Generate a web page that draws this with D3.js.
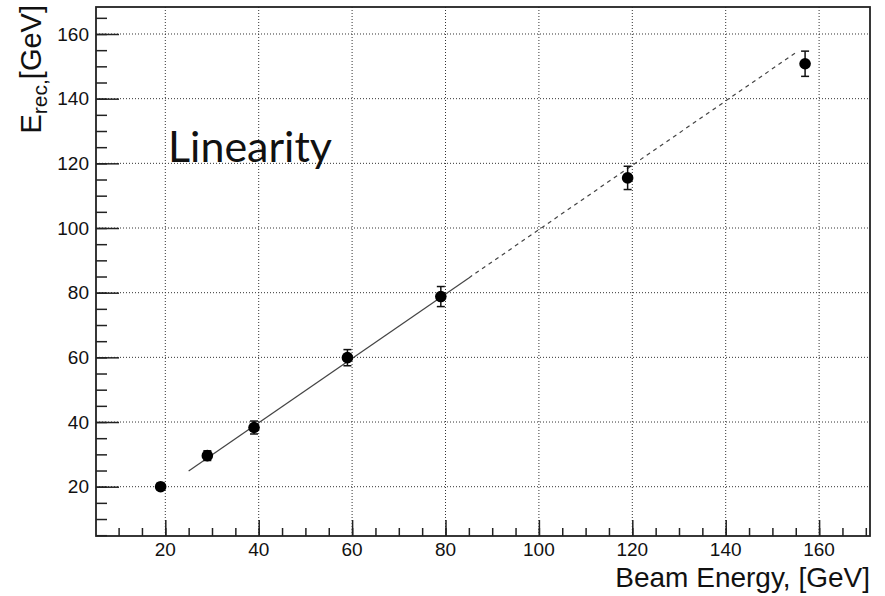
<!DOCTYPE html>
<html>
<head>
<meta charset="utf-8">
<script src="https://cdn.jsdelivr.net/npm/d3@7"></script>
<style>
  body { margin: 0; background: #fff; }
  text { font-family: "Liberation Sans", Arial, sans-serif; fill: #111; }
</style>
</head>
<body>
<div id="chart"></div>
<script>
// beam energy points and reconstructed energy
const beamEnergy = [19, 29, 39, 59, 79, 119, 157];
const recEnergy  = [20.0, 29.6, 38.3, 59.9, 78.8, 115.5, 150.8];
const recError   = [1.0, 1.5, 2.0, 2.5, 3.1, 3.6, 3.9];

// linear fit drawn over the data (solid part then dashed extension)
const fitSlope = 0.995;
const fitIntercept = 0.0;
const fitSolid = [25, 85];
const fitDashed = [85, 155.3];

const xTicks = [20, 40, 60, 80, 100, 120, 140, 160];
const yTicks = [20, 40, 60, 80, 100, 120, 140, 160];

const W = 885, H = 596;
const margin = { top: 7, right: 15, bottom: 60, left: 96 };
const width = W - margin.left - margin.right;
const height = H - margin.top - margin.bottom;

const svg = d3.select("#chart").append("svg")
    .attr("width", W)
    .attr("height", H);

const g = svg.append("g")
    .attr("transform", `translate(${margin.left},${margin.top})`);

const x = d3.scaleLinear().domain([5.16, 170.9]).range([0, width]);
const y = d3.scaleLinear().domain([4.75, 168.35]).range([height, 0]);

// grid
g.append("g").selectAll("line.gx")
    .data(xTicks).join("line")
    .attr("x1", d => x(d)).attr("x2", d => x(d))
    .attr("y1", 0).attr("y2", height)
    .attr("stroke", "#333").attr("stroke-width", 1)
    .attr("stroke-dasharray", "1,2");
g.append("g").selectAll("line.gy")
    .data(yTicks).join("line")
    .attr("y1", d => y(d)).attr("y2", d => y(d))
    .attr("x1", 0).attr("x2", width)
    .attr("stroke", "#333").attr("stroke-width", 1)
    .attr("stroke-dasharray", "1,2");

// axes with major + minor ticks
const xMinor = d3.range(10, 171, 5);
const yMinor = d3.range(5, 168, 5);

const xAxis = g.append("g").attr("transform", `translate(0,${height})`);
xAxis.append("g").call(d3.axisTop(x).tickValues(xMinor).tickSize(8).tickFormat(""));
xAxis.append("g").call(d3.axisTop(x).tickValues(xTicks).tickSize(16).tickFormat(""));
xAxis.selectAll(".domain").remove();
xAxis.selectAll("line").attr("stroke", "#222").attr("stroke-width", 1.5);
xAxis.selectAll("text.lbl")
    .data(xTicks).join("text")
    .attr("class", "lbl")
    .attr("x", d => x(d))
    .attr("y", 20)
    .attr("text-anchor", "middle")
    .style("font-size", "19px")
    .text(d => d);

const yAxis = g.append("g");
yAxis.append("g").call(d3.axisRight(y).tickValues(yMinor).tickSize(11).tickFormat(""));
yAxis.append("g").call(d3.axisRight(y).tickValues(yTicks).tickSize(23).tickFormat(""));
yAxis.selectAll(".domain").remove();
yAxis.selectAll("line").attr("stroke", "#222").attr("stroke-width", 1.5);
yAxis.selectAll("text.lbl")
    .data(yTicks).join("text")
    .attr("class", "lbl")
    .attr("x", -7)
    .attr("y", d => y(d))
    .attr("dy", "0.35em")
    .attr("text-anchor", "end")
    .style("font-size", "19px")
    .text(d => d);

// frame
g.append("rect")
    .attr("width", width).attr("height", height)
    .attr("fill", "none")
    .attr("stroke", "#222").attr("stroke-width", 1.8);

// fit line
const fit = v => fitSlope * v + fitIntercept;
g.append("line")
    .attr("x1", x(fitSolid[0])).attr("y1", y(fit(fitSolid[0])))
    .attr("x2", x(fitSolid[1])).attr("y2", y(fit(fitSolid[1])))
    .attr("stroke", "#444").attr("stroke-width", 1.2);
g.append("line")
    .attr("x1", x(fitDashed[0])).attr("y1", y(fit(fitDashed[0])))
    .attr("x2", x(fitDashed[1])).attr("y2", y(fit(fitDashed[1])))
    .attr("stroke", "#444").attr("stroke-width", 1.2)
    .attr("stroke-dasharray", "4,4");

// data with error bars
const pts = beamEnergy.map((e, i) => ({ e, r: recEnergy[i], err: recError[i] }));
const pg = g.append("g").selectAll("g").data(pts).join("g");
pg.append("line")
    .attr("x1", d => x(d.e)).attr("x2", d => x(d.e))
    .attr("y1", d => y(d.r - d.err)).attr("y2", d => y(d.r + d.err))
    .attr("stroke", "#111").attr("stroke-width", 1.5);
[-1, 1].forEach(s => {
    pg.append("line")
        .attr("x1", d => x(d.e) - 4).attr("x2", d => x(d.e) + 4)
        .attr("y1", d => y(d.r + s * d.err)).attr("y2", d => y(d.r + s * d.err))
        .attr("stroke", "#111").attr("stroke-width", 1.5);
});
pg.append("circle")
    .attr("cx", d => x(d.e)).attr("cy", d => y(d.r))
    .attr("r", 5.8).attr("fill", "#000");

// annotation
g.append("text")
    .attr("x", 168 - margin.left)
    .attr("y", 162 - margin.top)
    .style("font-family", "Lato, 'Open Sans', sans-serif")
    .style("font-size", "43px")
    .text("Linearity");

// axis titles
svg.append("text")
    .attr("x", 870).attr("y", 587)
    .attr("text-anchor", "end")
    .style("font-size", "28px")
    .text("Beam Energy, [GeV]");

const yt = svg.append("text")
    .attr("transform", "translate(41,5) rotate(-90)")
    .attr("text-anchor", "end")
    .style("font-size", "29px");
yt.append("tspan").text("E");
yt.append("tspan").attr("dy", 6).style("font-size", "21px").text("rec,");
yt.append("tspan").attr("dy", -6).text("[GeV]");
</script>
</body>
</html>
